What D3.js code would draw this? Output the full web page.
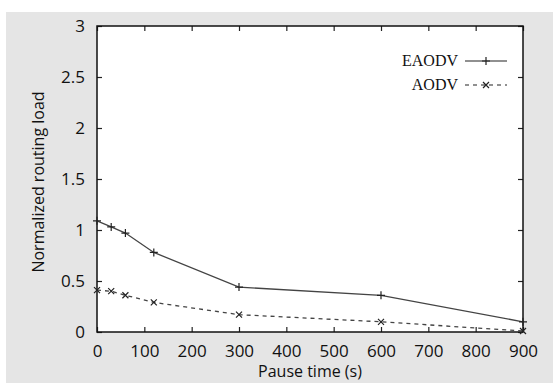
<!DOCTYPE html>
<html>
<head>
<meta charset="utf-8">
<script src="https://cdn.jsdelivr.net/npm/d3@7/dist/d3.min.js"></script>
<style>
  html, body { margin: 0; padding: 0; background: #fff; }
  svg { display: block; }
</style>
</head>
<body>
<div id="chart"></div>
<script>
// Pause time (s)
const pauseTimes = [0, 30, 60, 120, 300, 600, 900];
const eaodvLoad = [1.09, 1.03, 0.97, 0.78, 0.44, 0.36, 0.10];
const aodvLoad = [0.41, 0.40, 0.36, 0.29, 0.17, 0.10, 0.01];
const xTicks = [0, 100, 200, 300, 400, 500, 600, 700, 800, 900];
const yTicks = [0, 0.5, 1, 1.5, 2, 2.5, 3];
const seriesNames = ['EAODV', 'AODV'];

const W = 553, H = 383;
const plot = { left: 97, right: 523, top: 26, bottom: 332 };

const svg = d3.select('#chart').append('svg')
  .attr('width', W).attr('height', H);

// gray panel
svg.append('rect')
  .attr('x', 6).attr('y', 12).attr('width', W - 6).attr('height', H - 12)
  .attr('fill', '#e5e5e5');

svg.append('rect')
  .attr('x', plot.left).attr('y', plot.top)
  .attr('width', plot.right - plot.left).attr('height', plot.bottom - plot.top)
  .attr('fill', '#fff');

const x = d3.scaleLinear().domain([0, 900]).range([plot.left, plot.right]);
const y = d3.scaleLinear().domain([0, 3]).range([plot.bottom, plot.top]);

const tickFont = '"Open Sans", "DejaVu Sans", sans-serif';
const fmt = d => String(d);

// inward ticks on all four sides
const tickLen = 5;
const axB = svg.append('g').attr('transform', `translate(0,${plot.bottom})`)
  .call(d3.axisBottom(x).tickValues(xTicks).tickFormat(fmt).tickSizeInner(-tickLen).tickSizeOuter(0).tickPadding(12));
const axT = svg.append('g').attr('transform', `translate(0,${plot.top})`)
  .call(d3.axisTop(x).tickValues(xTicks).tickSizeInner(-tickLen).tickSizeOuter(0).tickFormat(''));
const axL = svg.append('g').attr('transform', `translate(${plot.left},0)`)
  .call(d3.axisLeft(y).tickValues(yTicks).tickFormat(fmt).tickSizeInner(-tickLen).tickSizeOuter(0).tickPadding(12));
const axR = svg.append('g').attr('transform', `translate(${plot.right},0)`)
  .call(d3.axisRight(y).tickValues(yTicks).tickSizeInner(-tickLen).tickSizeOuter(0).tickFormat(''));

[axB, axT, axL, axR].forEach(g => {
  g.select('.domain').remove();
  g.selectAll('.tick line').attr('stroke', '#222').attr('stroke-width', 1.2);
  g.selectAll('.tick text')
    .attr('font-family', tickFont).attr('font-size', 17).attr('fill', '#111');
});
axB.selectAll('.tick text').attr('dy', '0.75em');

// frame
svg.append('rect')
  .attr('x', plot.left).attr('y', plot.top)
  .attr('width', plot.right - plot.left).attr('height', plot.bottom - plot.top)
  .attr('fill', 'none').attr('stroke', '#111').attr('stroke-width', 1.5);

// axis titles
svg.append('text')
  .attr('x', 310).attr('y', 377)
  .attr('text-anchor', 'middle')
  .attr('font-family', tickFont).attr('font-size', 16).attr('fill', '#111')
  .text('Pause time (s)');

svg.append('text')
  .attr('transform', `translate(44,${(plot.top + plot.bottom) / 2 + 3}) rotate(-90)`)
  .attr('text-anchor', 'middle')
  .attr('font-family', tickFont).attr('font-size', 16).attr('fill', '#111')
  .text('Normalized routing load');

// series
const series = [
  { name: seriesNames[0], values: eaodvLoad, dash: null, marker: 'plus' },
  { name: seriesNames[1], values: aodvLoad, dash: '4,4', marker: 'cross' }
];
const lineColor = '#444';

const line = d3.line().x(d => x(d[0])).y(d => y(d[1]));

function drawMarker(g, cx, cy, type) {
  const s = 4;
  const p = type === 'plus'
    ? `M${cx - s},${cy}L${cx + s},${cy}M${cx},${cy - s}L${cx},${cy + s}`
    : `M${cx - 3},${cy - 3}L${cx + 3},${cy + 3}M${cx - 3},${cy + 3}L${cx + 3},${cy - 3}`;
  g.append('path').attr('d', p).attr('stroke', '#222').attr('stroke-width', 1.2).attr('fill', 'none');
}

series.forEach(s => {
  const pts = pauseTimes.map((t, i) => [t, s.values[i]]);
  const g = svg.append('g');
  g.append('path')
    .attr('d', line(pts))
    .attr('fill', 'none')
    .attr('stroke', lineColor)
    .attr('stroke-width', 1.3)
    .attr('stroke-dasharray', s.dash);
  pts.forEach(p => drawMarker(g, x(p[0]), y(p[1]), s.marker));
});

// legend
const legend = svg.append('g');
series.forEach((s, i) => {
  const ly = 60 + i * 24;
  legend.append('text')
    .attr('x', 458).attr('y', ly).attr('dy', '0.35em')
    .attr('text-anchor', 'end')
    .attr('font-family', '"Liberation Serif", "DejaVu Serif", serif')
    .attr('font-size', 16).attr('fill', '#111')
    .text(s.name);
  legend.append('line')
    .attr('x1', 465).attr('x2', 507).attr('y1', ly + 1).attr('y2', ly + 1)
    .attr('stroke', '#222').attr('stroke-width', 1.2)
    .attr('stroke-dasharray', s.dash);
  drawMarker(legend, 486, ly + 1, s.marker);
});
</script>
</body>
</html>
